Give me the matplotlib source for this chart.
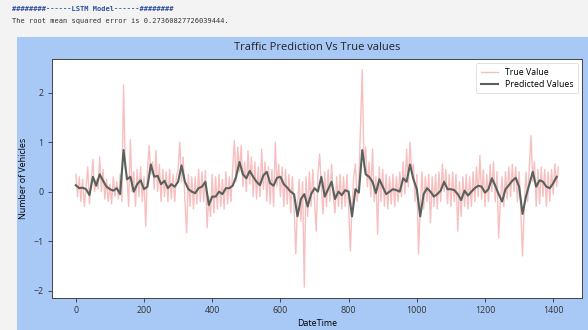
import numpy as np
import matplotlib
matplotlib.use("Agg")
import matplotlib.pyplot as plt
import matplotlib.patches as patches

# ---- data (normalised traffic counts) ----
# true values, one sample every 5 steps
true_vals = [
    0.35, -0.1, 0.3, -0.2, 0.25, -0.3, 0.1, 0.5, -0.25, 0.2, 0.65, 0.0, 0.25, 0.05, 0.7, 0.0, 0.45, -0.15, 0.25, -0.2,
    0.15, -0.25, 0.3, -0.1, 0.2, -0.15, 0.35, -0.2, 2.15, 0.5, 0.3, -0.3, 1.05, 0.0, 0.4, -0.3, 0.45, -0.1, 0.5, -0.2,
    0.3, -0.7, 0.4, 0.93, 0.35, 0.6, 0.05, 0.83, 0.0, 0.55, -0.2, 0.45, -0.1, 0.4, -0.2, 0.45, -0.15, 0.35, -0.2, 0.3,
    0.45, 1.0, 0.2, 0.7, -0.2, -0.83, 0.35, -0.3, 0.3, -0.35, 0.3, -0.25, 0.45, -0.2, 0.4, -0.2, 0.43, -0.73, -0.1, -0.5,
    0.35, -0.43, 0.3, -0.35, 0.35, -0.3, 0.25, -0.35, 0.4, -0.25, 0.3, -0.2, 0.45, 1.03, 0.2, 0.9, 0.4, 0.93, 0.1, 0.6,
    0.0, 0.83, 0.15, 0.7, -0.1, 0.6, -0.15, 0.5, -0.1, 0.86, 0.05, 0.6, -0.2, 0.5, -0.25, 0.45, -0.3, 1.0, 0.1, 0.55,
    -0.1, 0.5, -0.3, 0.45, -0.25, 0.35, -0.43, 0.3, -0.3, -1.26, -0.3, 0.25, -0.6, 0.2, -1.93, 0.3, -0.5, 0.4, -0.3, 0.45,
    -0.2, -0.8, 0.35, 0.76, 0.1, -0.45, 0.4, -0.3, 0.45, -0.2, 0.55, -0.1, -0.43, 0.3, -0.3, 0.35, -0.35, 0.3, -0.3, 0.35,
    -0.3, -1.2, -0.3, 0.3, 0.56, -0.2, 0.2, 1.33, 2.46, 0.5, 0.9, 0.1, 0.6, -0.1, 0.86, -0.2, 0.3, -0.86, 0.5, -0.2,
    0.45, -0.3, 0.35, -0.35, 0.3, -0.25, 0.35, -0.3, 0.3, -0.2, 0.4, -0.1, 0.6, -0.05, 0.86, 0.1, 1.0, 0.4, 0.55, -0.2,
    0.35, -1.26, -0.3, 0.4, -0.35, 0.3, -0.2, 0.35, -0.63, 0.3, -0.3, 0.35, -0.35, 0.4, -0.2, 0.56, 0.0, 0.45, -0.25, 0.35,
    -0.3, 0.4, -0.2, 0.35, -0.8, 0.2, -0.5, 0.3, -0.3, 0.35, -0.35, 0.3, -0.3, 0.4, -0.2, 0.5, -0.1, 0.73, -0.15, 0.45,
    -0.3, 0.35, -0.2, 0.55, 0.0, 0.6, -0.2, 0.4, -0.93, -0.2, 0.3, -0.3, 0.4, -0.15, 0.5, -0.1, 0.55, 0.0, 0.5, -0.2,
    0.4, -0.4, -1.3, -0.3, 0.4, -0.2, 0.5, 1.13, 0.2, 0.6, -0.3, 0.45, -0.25, 0.5, -0.1, 0.45, -0.3, 0.4, -0.2, 0.45,
    -0.05, 0.56, 0.1, 0.5,
]
true_step = 5

# LSTM predictions, one sample every 10 steps
pred_vals = [
    0.13, 0.07, 0.08, 0.05, -0.07, 0.3, 0.12, 0.35, 0.22, 0.1,
    0.05, 0.02, 0.07, -0.05, 0.84, 0.25, 0.3, 0.0, 0.15, 0.23,
    0.05, 0.1, 0.55, 0.3, 0.32, 0.15, 0.22, 0.07, 0.15, 0.1,
    0.2, 0.53, 0.2, 0.05, 0.0, -0.03, 0.07, 0.1, 0.2, -0.27,
    -0.1, -0.1, 0.0, -0.05, 0.07, 0.07, 0.12, 0.3, 0.6, 0.35,
    0.27, 0.42, 0.3, 0.2, 0.13, 0.33, 0.4, 0.17, 0.12, 0.28,
    0.3, 0.15, 0.08, 0.0, -0.05, -0.5, -0.15, -0.05, -0.3, -0.05,
    0.07, 0.0, 0.3, -0.1, 0.05, 0.2, -0.15, 0.0, -0.07, 0.03,
    0.0, -0.5, 0.05, -0.02, 0.84, 0.35, 0.3, 0.2, -0.03, 0.25,
    0.1, -0.05, 0.0, 0.05, 0.03, 0.0, 0.27, 0.2, 0.55, 0.25,
    0.05, -0.5, -0.05, 0.07, 0.0, -0.1, -0.05, 0.02, 0.2, 0.05,
    0.05, 0.03, -0.05, -0.17, 0.02, -0.08, 0.0, 0.07, 0.12, 0.1,
    -0.02, 0.05, 0.27, 0.12, -0.05, -0.2, 0.05, 0.13, 0.22, 0.28,
    0.1, -0.45, -0.1, 0.15, 0.4, 0.1, 0.23, 0.2, 0.1, 0.07,
    0.17, 0.3,
]
pred_step = 10

rmse = 0.27360827726039444

# ---- figure: notebook cell screenshot ----
fig = plt.figure(figsize=(5.88, 3.30), dpi=100)
fig.patch.set_facecolor("#f3f3f3")

# notebook printed output above the plot
fig.text(0.021, 0.973, "########------LSTM Model------########", family="DejaVu Sans Mono",
         fontsize=5.0, fontweight="bold", color="#2c4f9e", va="center", ha="left")
fig.text(0.021, 0.936, "The root mean squared error is %s." % rmse, family="DejaVu Sans Mono",
         fontsize=5.0, color="#333333", va="center", ha="left")

# blue figure background (the saved matplotlib figure)
fig.patches.append(patches.Rectangle((0.029, 0.0), 0.98, 0.888, transform=fig.transFigure,
                                     facecolor="#a8c9f6", edgecolor="none", zorder=-1))

ax = fig.add_axes([0.0879, 0.097, 0.9027, 0.724])
ax.set_zorder(2)
ax.set_facecolor("white")

x_true = np.arange(len(true_vals)) * true_step
x_pred = np.arange(len(pred_vals)) * pred_step
ax.plot(x_true, true_vals, color="lightcoral", alpha=0.5, linewidth=1.0, label="True Value")
ax.plot(x_pred, pred_vals, color="#56625b", linewidth=1.5, label="Predicted Values")

font = "Open Sans"
fig.text(0.539, 0.856, "Traffic Prediction Vs True values", family=font, fontsize=8,
         ha="center", va="center", color="#222222")
ax.set_xlabel("DateTime", family=font, fontsize=6.4, labelpad=3)
ax.set_ylabel("Number of Vehicles", family=font, fontsize=6.4, labelpad=4)
ax.tick_params(labelsize=6.4, length=3, width=0.6, pad=3, colors="#333333")
for lab in ax.get_xticklabels() + ax.get_yticklabels():
    lab.set_family(font)
ax.set_xticks([0, 200, 400, 600, 800, 1000, 1200, 1400])
ax.set_yticks([-2, -1, 0, 1, 2])
for s in ax.spines.values():
    s.set_linewidth(0.7)
    s.set_color("#444444")

leg = ax.legend(loc="upper right", prop={"family": font, "size": 6.3}, handlelength=2.0,
                borderpad=0.5, labelspacing=0.35, framealpha=0.8)
leg.get_frame().set_linewidth(0.5)

fig.savefig("out.png", dpi=100, facecolor=fig.get_facecolor())
